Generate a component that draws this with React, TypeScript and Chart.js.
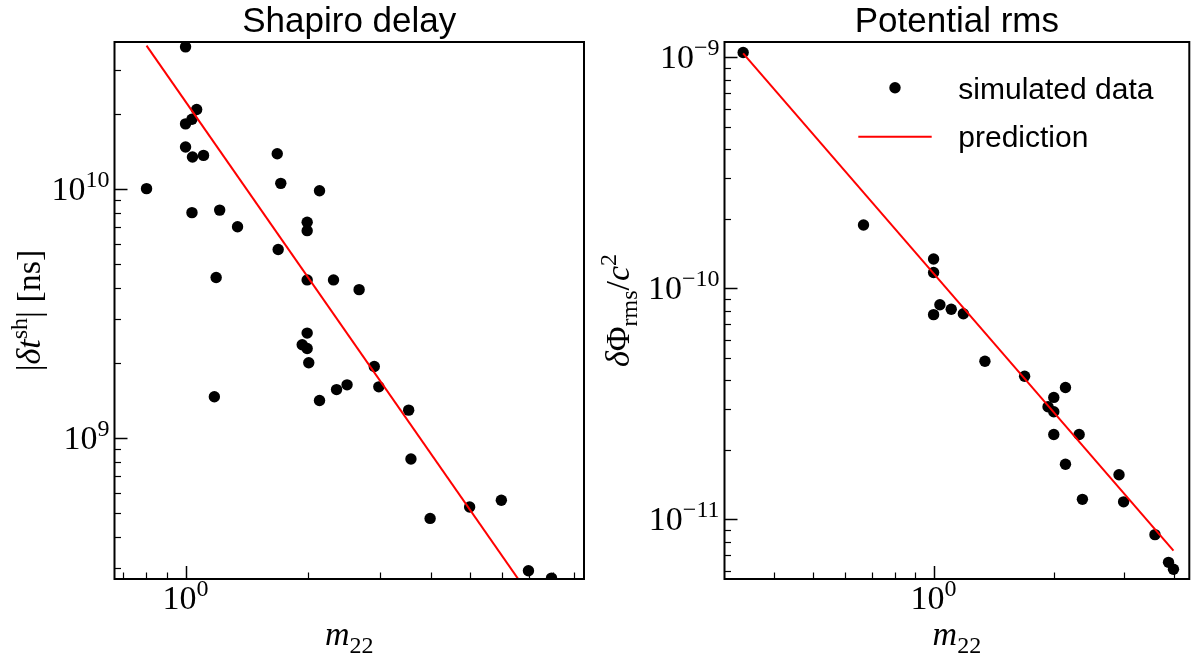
import React, { useEffect, useRef } from "react";
import { Chart, registerables } from "chart.js";
Chart.register(...registerables);

// ---------- Shapiro delay panel ----------
const shapiroM22 = [1.0, 0.802, 1.065, 1.0, 1.037, 1.0, 1.04, 1.107, 1.68, 1.714, 2.134, 1.037, 1.213, 1.342, 1.99, 1.99, 1.689, 1.189, 1.99, 2.31, 2.67, 1.99, 1.935, 1.99, 2.008, 1.177, 2.134, 2.35, 2.494, 2.909, 2.985, 3.534, 3.58, 3.99, 4.99, 5.97, 6.96, 7.93];
const shapiroDelay = [3.71e10, 1.0e10, 2.08e10, 1.82e10, 1.9e10, 1.47e10, 1.34e10, 1.36e10, 1.38e10, 1.05e10, 9.8e9, 8.01e9, 8.2e9, 7.03e9, 7.33e9, 6.78e9, 5.7e9, 4.4e9, 4.3e9, 4.3e9, 3.93e9, 2.63e9, 2.36e9, 2.28e9, 2.0e9, 1.46e9, 1.41e9, 1.56e9, 1.63e9, 1.93e9, 1.6e9, 1.29e9, 8.21e8, 4.74e8, 5.27e8, 5.61e8, 2.92e8, 2.73e8];
const shapiroPredM22 = [0.802, 7.93];
const shapiroPredDelay = [3.75e10, 1.74e8];
const shapiroXRange = [0.669, 9.53];
const shapiroYRange = [2.707e8, 3.88e10];
const shapiroXMajor = [1];
const shapiroYMajor = [1e9, 1e10];

// ---------- Potential rms panel ----------
const potM22 = [0.334, 0.668, 1.0, 1.0, 1.037, 1.107, 1.0, 1.187, 1.344, 1.689, 2.137, 1.998, 1.933, 1.998, 1.998, 2.312, 2.137, 2.909, 2.356, 2.987, 3.578, 3.868, 3.98];
const potRms = [1.05e-9, 1.88e-10, 1.34e-10, 1.17e-10, 8.49e-11, 8.11e-11, 7.69e-11, 7.76e-11, 4.83e-11, 4.16e-11, 3.72e-11, 3.37e-11, 3.07e-11, 2.92e-11, 2.33e-11, 2.33e-11, 1.73e-11, 1.56e-11, 1.22e-11, 1.19e-11, 8.58e-12, 6.51e-12, 6.08e-12];
const potPredM22 = [0.334, 3.98];
const potPredRms = [1.04e-9, 7.32e-12];
const potXRange = [0.303, 4.36];
const potYRange = [5.514e-12, 1.165e-9];
const potXMajor = [1];
const potYMajor = [1e-11, 1e-10, 1e-9];

const panelTitles = ["Shapiro delay", "Potential rms"];
const legendLabels = ["simulated data", "prediction"];

const SERIF = '"Liberation Serif", "DejaVu Serif", serif';
const SANS = '"Liberation Sans", Arial, sans-serif';
const BASE = 34;
const SMALL = 24;
const fMain = `${BASE}px ${SERIF}`;
const fIt = `italic ${BASE}px ${SERIF}`;
const fSmall = `${SMALL}px ${SERIF}`;
const SUP = -13;
const SUB = 8;

type Seg = { t: string; font: string; dy?: number };

function richWidth(ctx: CanvasRenderingContext2D, segs: Seg[]) {
  let w = 0;
  for (const s of segs) {
    ctx.font = s.font;
    w += ctx.measureText(s.t).width;
  }
  return w;
}

function drawRich(ctx: CanvasRenderingContext2D, segs: Seg[], x: number, y: number, align: "left" | "center" | "right") {
  const w = richWidth(ctx, segs);
  let cx = align === "center" ? x - w / 2 : align === "right" ? x - w : x;
  ctx.textAlign = "left";
  ctx.textBaseline = "alphabetic";
  for (const s of segs) {
    ctx.font = s.font;
    ctx.fillText(s.t, cx, y + (s.dy || 0));
    cx += ctx.measureText(s.t).width;
  }
}

const SUPS: Record<string, string> = { "-": "\u2212" };
function powLabel(v: number): Seg[] {
  const e = Math.round(Math.log10(v));
  const es = String(e).split("").map((c) => SUPS[c] || c).join("");
  return [
    { t: "10", font: fMain },
    { t: es, font: fSmall, dy: SUP },
  ];
}

function logTicks(min: number, max: number) {
  const out: { v: number; major: boolean }[] = [];
  for (let e = Math.floor(Math.log10(min)); e <= Math.ceil(Math.log10(max)); e++) {
    for (let k = 1; k <= 9; k++) {
      const v = k * Math.pow(10, e);
      if (v >= min * 0.99999 && v <= max * 1.00001) out.push({ v, major: k === 1 });
    }
  }
  return out;
}

interface Panel {
  title: string;
  xs: number[];
  ys: number[];
  px: number[];
  py: number[];
  xRange: number[];
  yRange: number[];
  xMajor: number[];
  yMajor: number[];
  yLabel: Seg[];
  yLabelX: number;
  area: { left: number; right: number; top: number; bottom: number };
  W: number;
  H: number;
  legend: boolean;
}

function makeChart(canvas: HTMLCanvasElement, p: Panel) {
  const overlay = {
    id: "overlay",
    afterDraw(chart: any) {
      const ctx: CanvasRenderingContext2D = chart.ctx;
      const a = chart.chartArea;
      const xs = chart.scales.x;
      const ys = chart.scales.y;
      ctx.save();
      ctx.fillStyle = "#000";
      ctx.strokeStyle = "#000";
      // ticks (inward, left and bottom only)
      for (const t of logTicks(p.xRange[0], p.xRange[1])) {
        const x = Math.round(xs.getPixelForValue(t.v)) + 0.5;
        ctx.lineWidth = t.major ? 1.5 : 1.2;
        ctx.beginPath();
        ctx.moveTo(x, a.bottom);
        ctx.lineTo(x, a.bottom - (t.major ? 13 : 6.5));
        ctx.stroke();
      }
      for (const t of logTicks(p.yRange[0], p.yRange[1])) {
        const y = Math.round(ys.getPixelForValue(t.v)) + 0.5;
        ctx.lineWidth = t.major ? 1.5 : 1.2;
        ctx.beginPath();
        ctx.moveTo(a.left, y);
        ctx.lineTo(a.left + (t.major ? 13 : 6.5), y);
        ctx.stroke();
      }
      // frame
      ctx.lineWidth = 2;
      ctx.strokeRect(a.left, a.top, a.right - a.left, a.bottom - a.top);
      // tick labels
      for (const v of p.xMajor) {
        drawRich(ctx, powLabel(v), xs.getPixelForValue(v), 609, "center");
      }
      for (const v of p.yMajor) {
        drawRich(ctx, powLabel(v), a.left - 5, ys.getPixelForValue(v) + 11, "right");
      }
      // axis labels
      const cx = (a.left + a.right) / 2;
      const cy = (a.top + a.bottom) / 2;
      drawRich(ctx, [{ t: "m", font: fIt }, { t: "22", font: fSmall, dy: SUB }], cx, 645, "center");
      ctx.save();
      ctx.translate(p.yLabelX, cy);
      ctx.rotate(-Math.PI / 2);
      drawRich(ctx, p.yLabel, 0, 0, "center");
      ctx.restore();
      // title
      ctx.font = `35px ${SANS}`;
      ctx.textAlign = "center";
      ctx.textBaseline = "alphabetic";
      ctx.fillText(p.title, cx, 32);
      // legend
      if (p.legend) {
        const ds = chart.data.datasets;
        ctx.beginPath();
        ctx.arc(295, 87.7, 5.7, 0, Math.PI * 2);
        ctx.fill();
        ctx.font = `30px ${SANS}`;
        ctx.textAlign = "left";
        ctx.fillText(ds[1].label, 358.3, 98.5);
        ctx.strokeStyle = ds[0].borderColor;
        ctx.lineWidth = 2;
        ctx.beginPath();
        ctx.moveTo(258.3, 136.7);
        ctx.lineTo(331.7, 136.7);
        ctx.stroke();
        ctx.fillText(ds[0].label, 358.3, 147);
      }
      ctx.restore();
    },
  };

  return new Chart(canvas, {
    type: "scatter",
    data: {
      datasets: [
        {
          label: legendLabels[1],
          data: p.px.map((x, i) => ({ x, y: p.py[i] })),
          showLine: true,
          borderColor: "#ff0000",
          backgroundColor: "#ff0000",
          borderWidth: 2,
          pointRadius: 0,
          pointHoverRadius: 0,
          order: 0,
          clip: 0,
        } as any,
        {
          label: legendLabels[0],
          data: p.xs.map((x, i) => ({ x, y: p.ys[i] })),
          pointRadius: 5.7,
          pointHoverRadius: 5.7,
          backgroundColor: "#000",
          borderColor: "#000",
          borderWidth: 0,
          order: 1,
          clip: 0,
        } as any,
      ],
    },
    options: {
      responsive: false,
      animation: false,
      events: [],
      layout: { padding: { top: p.area.top, left: 0, right: p.W - p.area.right, bottom: 0 } },
      plugins: { legend: { display: false }, tooltip: { enabled: false }, title: { display: false } },
      scales: {
        x: {
          type: "logarithmic",
          min: p.xRange[0],
          max: p.xRange[1],
          ticks: { display: false },
          grid: { display: false },
          border: { display: false },
          afterFit: (s: any) => {
            s.height = p.H - p.area.bottom;
          },
        },
        y: {
          type: "logarithmic",
          min: p.yRange[0],
          max: p.yRange[1],
          ticks: { display: false },
          grid: { display: false },
          border: { display: false },
          afterFit: (s: any) => {
            s.width = p.area.left;
          },
        },
      },
    } as any,
    plugins: [overlay],
  });
}

export default function App() {
  const leftRef = useRef<HTMLCanvasElement>(null);
  const rightRef = useRef<HTMLCanvasElement>(null);

  useEffect(() => {
    const c1 = makeChart(leftRef.current!, {
      title: panelTitles[0],
      xs: shapiroM22,
      ys: shapiroDelay,
      px: shapiroPredM22,
      py: shapiroPredDelay,
      xRange: shapiroXRange,
      yRange: shapiroYRange,
      xMajor: shapiroXMajor,
      yMajor: shapiroYMajor,
      yLabel: [
        { t: "|", font: fMain },
        { t: "\u03b4t", font: fIt },
        { t: "sh", font: fSmall, dy: SUP },
        { t: "| [ns]", font: fMain },
      ],
      yLabelX: 40,
      area: { left: 114.5, right: 584, top: 42, bottom: 579 },
      W: 600,
      H: 657,
      legend: false,
    });
    const c2 = makeChart(rightRef.current!, {
      title: panelTitles[1],
      xs: potM22,
      ys: potRms,
      px: potPredM22,
      py: potPredRms,
      xRange: potXRange,
      yRange: potYRange,
      xMajor: potXMajor,
      yMajor: potYMajor,
      yLabel: [
        { t: "\u03b4", font: fIt },
        { t: "\u03a6", font: fMain },
        { t: "rms", font: fSmall, dy: SUB },
        { t: "/", font: fMain },
        { t: "c", font: fIt },
        { t: "2", font: fSmall, dy: SUP },
      ],
      yLabelX: 29,
      area: { left: 124.5, right: 593.5, top: 42, bottom: 579 },
      W: 595,
      H: 657,
      legend: true,
    });
    return () => {
      c1.destroy();
      c2.destroy();
    };
  }, []);

  return (
    <div style={{ position: "fixed", left: 0, top: 0, width: 1195, height: 657, background: "#fff" }}>
      <canvas ref={leftRef} width={600} height={657} style={{ position: "absolute", left: 0, top: 0, width: 600, height: 657 }} />
      <canvas ref={rightRef} width={595} height={657} style={{ position: "absolute", left: 600, top: 0, width: 595, height: 657 }} />
    </div>
  );
}
